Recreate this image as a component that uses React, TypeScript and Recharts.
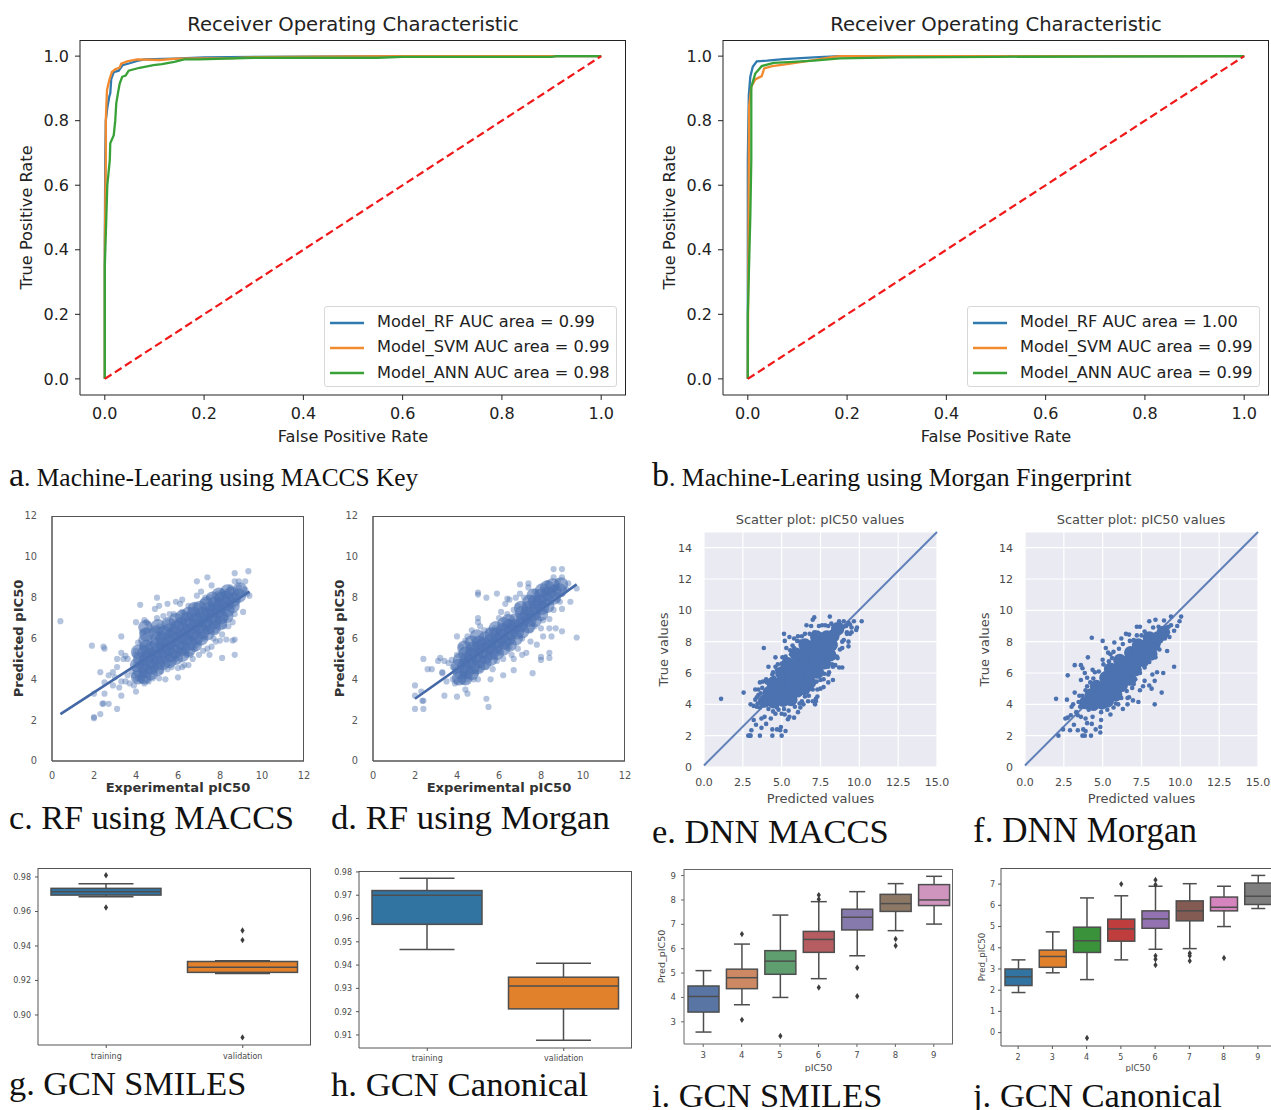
import React from 'react';
import { LineChart, Line, XAxis, YAxis, Legend, ReferenceLine, ScatterChart, Scatter, CartesianGrid, BarChart, Bar } from 'recharts';

type P = number[];
const rocTicks = [0, 0.2, 0.4, 0.6, 0.8, 1.0];

const rocARf: P[] = [[0,0],[0,0.42],[0.001,0.7],[0.002,0.8],[0.005,0.84],[0.009,0.875],[0.011,0.885],[0.013,0.93],[0.018,0.95],[0.028,0.955],[0.036,0.972],[0.05,0.978],[0.065,0.985],[0.08,0.99],[0.14,0.992],[0.2,0.996],[0.3,0.998],[0.6,1],[1,1]];
const rocASvm: P[] = [[0,0],[0,0.4],[0.002,0.68],[0.002,0.8],[0.003,0.843],[0.0044,0.895],[0.0097,0.93],[0.0144,0.951],[0.021,0.959],[0.03,0.965],[0.033,0.977],[0.045,0.984],[0.065,0.99],[0.11,0.988],[0.145,0.992],[0.26,0.994],[0.3,0.997],[0.5,0.999],[0.6,1],[1,1]];
const rocAAnn: P[] = [[0,0],[0,0.35],[0.003,0.5],[0.005,0.6],[0.01,0.678],[0.011,0.73],[0.018,0.755],[0.021,0.8],[0.023,0.853],[0.027,0.89],[0.03,0.915],[0.035,0.936],[0.042,0.94],[0.048,0.955],[0.07,0.964],[0.098,0.972],[0.115,0.975],[0.14,0.982],[0.16,0.99],[0.19,0.99],[0.3,0.995],[0.55,0.995],[0.6,0.998],[0.9,0.998],[0.91,1],[1,1]];
const rocBRf: P[] = [[0,0],[0,0.678],[0.002,0.879],[0.005,0.936],[0.01,0.967],[0.018,0.984],[0.039,0.986],[0.072,0.991],[0.133,0.996],[0.186,1],[1,1]];
const rocBSvm: P[] = [[0,0],[0.002,0.678],[0.0025,0.843],[0.007,0.905],[0.015,0.928],[0.028,0.938],[0.033,0.962],[0.049,0.969],[0.079,0.975],[0.126,0.986],[0.173,0.998],[0.186,1],[1,1]];
const rocBAnn: P[] = [[0,0],[0,0.2],[0.005,0.5],[0.007,0.678],[0.007,0.905],[0.015,0.946],[0.028,0.969],[0.052,0.979],[0.092,0.982],[0.133,0.986],[0.186,0.993],[0.3,0.996],[0.5,0.998],[1,1]];
const chance: P[] = [[0,0],[1,1]];
const rocNamesA = ['Model_RF AUC area = 0.99', 'Model_SVM AUC area = 0.99', 'Model_ANN AUC area = 0.98'];
const rocNamesB = ['Model_RF AUC area = 1.00', 'Model_SVM AUC area = 0.99', 'Model_ANN AUC area = 0.99'];

const rfMaccsCloud: P[] = [[0.4,6.85],[1.9,5.65],[2.45,5.6],[2.5,5.5],[3.3,6.1],[2.3,4.35],[2.5,3.85],[2.7,4.2],[2.9,4.35],[3.1,4.6],[3.1,5.0],[3.3,5.3],[3.4,5.0],[3.5,5.15],[3.6,5.0],[2.0,3.3],[2.5,3.3],[2.4,2.8],[2.45,2.82],[2.7,2.8],[3.1,2.55],[2.3,2.3],[2.0,2.15],[2.0,2.1],[3.3,3.2],[3.2,3.6],[3.3,3.9],[3.0,4.1],[2.9,3.7],[3.5,3.9],[3.7,3.8],[4.0,3.4],[3.9,3.7],[4.2,7.65],[4.0,6.8],[4.4,6.9],[4.5,6.8],[4.6,6.7],[4.5,6.4],[4.3,6.3],[4.1,5.8],[4.0,5.4],[5.0,8.0],[4.9,7.45],[5.1,7.6],[5.5,7.7],[5.9,7.8],[6.2,7.9],[6.1,7.7],[6.9,8.8],[7.4,9.0],[7.6,8.6],[8.7,9.2],[9.35,9.3],[8.7,8.8],[8.9,8.8],[9.2,8.8],[6.9,8.1],[7.3,8.0],[7.1,8.3],[8.6,7.55],[9.1,7.3],[8.6,5.9],[8.3,5.95],[8.7,5.95],[8.7,5.2],[8.1,5.05],[7.8,5.85],[7.5,5.2],[7.2,5.4],[7.0,5.2],[7.4,5.5],[6.8,5.5],[6.6,5.2],[6.4,5.2],[6.3,4.7],[6.5,4.7],[6.2,4.6],[6.0,4.55],[6.0,4.1],[5.4,4.0],[5.1,4.05],[4.8,4.05],[5.5,4.5],[5.7,4.6],[4.4,3.8],[5.2,4.4],[8.2,6.6],[8.4,6.6],[8.6,6.8],[8.1,6.2],[7.8,6.4],[7.7,6.0],[9.4,8.1],[9.3,8.2],[9.0,8.2],[9.2,8.4],[8.9,8.5],[8.5,8.5],[8.4,8.3],[8.1,8.3],[7.9,8.2],[7.5,8.0],[7.2,7.8],[6.8,7.6],[6.5,7.6],[6.2,7.3],[5.8,7.2],[5.6,7.2],[5.3,7.1],[5.0,7.0],[5.1,6.6],[4.9,6.4],[5.5,6.8],[4.0,4.0],[4.1,4.05],[4.2,4.0],[4.3,3.95],[4.5,4.0],[4.6,3.9],[3.9,4.2],[3.8,4.4],[3.6,4.2],[4.0,4.7],[3.95,5.2],[4.3,5.6],[7.6,5.6],[8.0,5.9],[7.2,6.0],[6.7,5.0],[6.9,5.7],[5.9,5.0],[5.6,4.8],[5.3,4.7],[4.9,4.5],[8.8,7.9],[8.7,7.2],[8.3,7.0],[8.5,7.6],[7.9,6.8],[7.4,6.5],[7.1,6.7],[6.6,6.0],[6.3,5.4]];
const rfMaccsCore: P[] = [[4.1,4.1],[4.2,4.4],[4.05,4.7],[4.2,5.0],[4.1,5.35],[4.4,4.1],[4.45,4.4],[4.35,4.7],[4.5,5.0],[4.4,5.3],[4.5,5.6],[4.45,5.9],[4.5,6.2],[4.45,6.55],[4.7,4.3],[4.75,4.6],[4.7,4.9],[4.65,5.2],[4.75,5.5],[5.0,4.5],[5.05,4.8],[4.95,5.1],[5.05,5.4],[5.0,5.7],[5.05,6.0],[4.95,6.3],[5.05,6.6],[5.3,4.8],[5.25,5.1],[5.35,5.4],[5.3,5.7],[5.25,6.0],[5.35,6.3],[5.6,4.9],[5.65,5.2],[5.55,5.5],[5.6,5.8],[5.65,6.1],[5.6,6.4],[5.55,6.7],[5.9,5.05],[5.85,5.35],[5.95,5.65],[5.9,5.95],[5.85,6.25],[5.95,6.55],[5.9,6.9],[6.2,5.2],[6.25,5.5],[6.15,5.8],[6.2,6.1],[6.25,6.4],[6.15,6.7],[6.2,7.05],[6.5,5.45],[6.55,5.75],[6.45,6.05],[6.5,6.35],[6.55,6.65],[6.45,6.95],[6.5,7.2],[6.8,5.7],[6.85,6.0],[6.75,6.3],[6.8,6.6],[6.85,6.9],[6.75,7.2],[6.8,7.45],[7.1,6.0],[7.15,6.3],[7.05,6.6],[7.1,6.9],[7.15,7.2],[7.05,7.5],[7.4,6.25],[7.45,6.55],[7.35,6.85],[7.4,7.15],[7.45,7.45],[7.35,7.7],[7.7,6.5],[7.75,6.8],[7.65,7.1],[7.7,7.4],[7.75,7.7],[7.65,7.95],[8.0,6.75],[8.05,7.05],[7.95,7.35],[8.0,7.65],[8.05,7.95],[7.95,8.15],[8.3,7.1],[8.35,7.4],[8.25,7.7],[8.3,8.0],[8.35,8.3],[8.6,7.6],[8.65,7.9],[8.55,8.2],[8.9,8.1],[8.95,8.4]];
const rfMorganCloud: P[] = [[2,3.7],[2,3.2],[2.4,5.0],[2.6,4.5],[2.8,4.5],[3.1,4.9],[3.2,5.05],[3.4,4.9],[3.6,4.8],[3.75,4.95],[3.3,4.35],[3.3,4.3],[3.5,3.9],[2,2.55],[2.4,2.55],[2.4,2.95],[2.35,2.95],[3.4,3.2],[2.3,3.4],[4.0,3.15],[4.4,3.5],[4.5,3.3],[5.4,3.05],[5.5,2.65],[4.0,6.1],[4.5,6.1],[4.7,6.4],[5.0,7.0],[5.0,6.8],[5.1,6.6],[5.0,8.25],[5.0,8.15],[5.4,8.0],[5.9,8.2],[6.4,7.95],[6.3,7.7],[6.5,7.9],[6.7,7.4],[6.1,7.3],[6.0,7.0],[7.0,8.65],[7.4,8.7],[7.4,8.5],[7.0,8.2],[6.8,8.0],[8.6,9.4],[9.0,9.4],[9.0,9.0],[8.6,9.0],[8.8,8.8],[9.3,8.7],[9.7,8.45],[9.4,7.8],[9.0,7.45],[9.0,6.35],[9.7,6.05],[8.7,6.5],[8.4,6.95],[8.4,6.5],[8.5,6.1],[8.1,6.1],[8.0,6.5],[7.8,5.7],[7.5,5.85],[8.0,5.1],[8.0,4.95],[8.4,5.3],[8.4,5.05],[7.6,4.3],[6.7,4.45],[6.7,5.0],[6.9,5.5],[7.3,5.3],[7.1,5.2],[6.2,4.2],[5.7,4.5],[5.6,4.0],[5.0,4.0],[4.8,4.0],[4.9,4.3],[3.8,4.0],[3.9,3.8],[4.0,3.9],[4.1,4.0],[4.3,3.9],[4.5,4.0],[4.4,4.2],[3.9,4.4],[3.8,4.6],[4.0,5.2],[4.2,5.6],[4.4,5.9],[5.3,6.4],[5.5,6.4],[5.8,6.5],[6.4,7.2],[6.9,7.6],[7.2,8.0],[7.7,8.3],[8.1,8.4],[8.3,8.7],[8.7,8.5],[9.2,8.4],[9.0,8.2],[8.8,7.9],[8.6,7.4],[8.9,7.8],[8.1,6.9],[7.7,6.6],[7.5,6.4],[7.1,6.0],[6.5,5.6],[6.2,5.0],[5.9,4.9],[5.4,4.6],[5.1,4.5],[6.6,5.2],[6.0,5.3],[4.7,4.4]];
const rfMorganCore: P[] = [[4.1,4.05],[4.15,4.35],[4.05,4.65],[4.15,4.95],[4.4,4.05],[4.45,4.35],[4.35,4.65],[4.45,4.95],[4.4,5.25],[4.35,5.55],[4.7,4.3],[4.75,4.6],[4.65,4.9],[4.7,5.2],[4.75,5.5],[4.7,5.8],[5.0,4.6],[5.05,4.9],[4.95,5.2],[5.0,5.5],[5.05,5.8],[4.95,6.1],[5.3,4.8],[5.35,5.1],[5.25,5.4],[5.3,5.7],[5.35,6.0],[5.6,5.0],[5.65,5.3],[5.55,5.6],[5.6,5.9],[5.65,6.2],[5.9,5.3],[5.85,5.6],[5.95,5.9],[5.9,6.2],[5.85,6.5],[6.2,5.5],[6.25,5.8],[6.15,6.1],[6.2,6.4],[6.25,6.7],[6.5,5.7],[6.45,6.0],[6.55,6.3],[6.5,6.6],[6.45,6.85],[6.8,6.0],[6.85,6.3],[6.75,6.6],[6.8,6.9],[7.1,6.35],[7.05,6.65],[7.15,6.95],[7.1,7.25],[7.05,7.5],[7.4,6.6],[7.45,6.9],[7.35,7.2],[7.4,7.5],[7.45,7.8],[7.7,6.9],[7.65,7.2],[7.75,7.5],[7.7,7.8],[7.65,8.1],[8.0,7.2],[8.05,7.5],[7.95,7.8],[8.0,8.1],[8.05,8.35],[8.3,7.6],[8.25,7.9],[8.35,8.2],[8.3,8.5],[8.6,8.0],[8.65,8.3],[8.55,8.6],[8.9,8.35],[8.95,8.65]];

const dnnMaccsCloud: P[] = [[1.1,4.35],[2.55,4.75],[3.0,4.0],[3.2,3.9],[3.4,3.85],[3.2,3.0],[3.35,2.7],[3.05,2.35],[3.0,2.0],[2.85,2.0],[2.95,2.0],[3.6,2.0],[3.7,2.5],[4.0,2.75],[3.7,3.1],[3.9,3.2],[4.3,3.1],[4.6,3.4],[4.4,2.0],[4.4,2.4],[4.7,2.4],[4.9,2.35],[5.0,2.0],[4.95,2.55],[5.25,2.3],[3.3,4.95],[3.5,4.95],[3.6,5.4],[3.8,5.45],[4.05,5.4],[3.85,7.6],[4.15,6.4],[4.6,7.0],[4.6,6.4],[5.0,6.6],[5.2,6.6],[4.4,5.9],[4.5,5.7],[5.15,8.5],[5.2,8.05],[5.5,8.3],[5.8,8.2],[6.05,8.35],[5.7,7.75],[5.3,7.6],[5.6,7.2],[6.2,8.0],[6.5,8.5],[6.3,8.35],[7.1,9.55],[7.0,9.4],[6.6,9.05],[6.9,9.0],[7.4,9.0],[7.8,9.05],[8.1,9.6],[8.2,9.15],[8.0,9.0],[8.5,9.1],[8.7,9.3],[9.0,9.3],[9.3,9.2],[9.5,8.9],[9.5,8.6],[9.65,9.3],[10.15,9.3],[9.85,8.9],[9.8,8.75],[9.4,8.5],[9.2,8.6],[9.3,8.0],[9.3,7.7],[8.9,8.0],[8.9,7.6],[8.4,7.0],[8.7,6.35],[8.9,6.35],[8.3,6.4],[8.0,6.4],[8.0,5.9],[8.3,5.55],[8.0,5.4],[7.7,5.6],[7.7,5.1],[7.5,5.0],[7.3,4.95],[7.3,4.5],[7.2,4.35],[7.2,4.2],[7.0,4.2],[7.15,4.0],[6.7,4.2],[6.4,4.0],[6.2,3.8],[6.05,3.5],[5.8,3.15],[5.5,3.2],[5.4,3.05],[5.2,3.35],[5.0,3.4],[4.7,3.8],[6.6,4.8],[6.9,5.0],[3.3,4.3],[3.5,4.6],[3.7,4.1],[3.95,4.8],[4.1,5.0],[4.3,5.1],[9.0,8.95],[8.8,8.8],[8.6,8.5],[8.8,9.1],[9.15,9.0],[9.4,9.1],[3.45,4.05],[3.6,3.8],[3.4,4.45],[3.65,4.7],[3.75,5.05],[4.0,5.6],[4.3,5.55],[4.45,6.05],[4.7,6.2],[4.75,6.55],[5.05,6.4],[5.05,7.0],[5.25,7.05],[5.55,7.45],[5.8,7.6],[6.0,8.05],[6.3,7.95],[6.8,8.5],[7.1,8.6],[7.6,9.05],[8.35,9.0],[6.15,4.05],[6.3,4.2],[6.5,4.5],[6.75,4.55],[7.0,4.95],[7.25,5.45],[7.5,5.55],[7.75,5.95],[8.05,6.05],[8.25,6.55],[8.45,6.5],[8.6,6.95],[8.55,7.05],[8.75,7.5],[9.0,8.1],[9.2,8.5],[4.15,3.7],[4.45,3.55],[4.8,3.65],[5.15,3.7],[5.45,3.6],[5.85,3.85]];
const dnnMaccsCore: P[] = [[3.9,4.2],[4.5,4.15],[5.1,4.25],[5.6,4.3],[4.2,4.75],[4.8,4.8],[5.4,4.75],[6.0,4.85],[6.45,5.0],[4.45,5.35],[5.0,5.4],[5.6,5.35],[6.2,5.45],[6.8,5.4],[5.0,6.0],[5.6,5.95],[6.2,6.05],[6.8,6.0],[7.3,6.05],[5.4,6.6],[6.0,6.55],[6.6,6.65],[7.2,6.6],[7.75,6.65],[5.95,7.2],[6.5,7.15],[7.1,7.25],[7.7,7.2],[8.1,7.15],[6.5,7.8],[7.1,7.75],[7.7,7.8],[8.2,7.8],[7.25,8.3],[7.9,8.3],[8.3,8.35],[8.6,8.8]];
const dnnMorganCloud: P[] = [[2.0,4.35],[2.15,2.0],[2.6,3.1],[2.75,3.15],[2.45,2.4],[2.95,3.3],[3.15,2.7],[2.9,2.35],[3.4,2.35],[3.7,2.0],[3.85,2.0],[3.75,2.4],[3.9,2.3],[4.25,2.0],[4.55,2.4],[4.85,2.55],[4.85,2.2],[4.9,3.0],[4.3,2.75],[4.0,2.8],[3.9,3.1],[3.6,3.2],[4.35,3.2],[4.9,3.5],[5.5,3.35],[5.3,3.65],[5.7,3.8],[6.3,3.7],[3.3,3.5],[3.1,4.0],[2.7,4.3],[2.75,5.85],[3.2,6.5],[3.6,6.5],[3.7,6.3],[3.85,6.0],[4.05,7.0],[4.3,8.25],[5.0,8.05],[5.75,7.95],[5.2,7.6],[5.35,7.3],[5.5,7.2],[5.0,6.85],[5.6,6.95],[4.35,6.2],[4.5,6.05],[4.0,5.7],[3.6,5.55],[3.2,4.75],[3.5,4.55],[3.0,3.85],[4.5,5.3],[6.5,8.5],[6.2,8.2],[6.7,8.45],[7.2,8.95],[7.4,8.95],[8.0,9.3],[8.4,9.4],[8.95,9.35],[9.4,9.6],[10.05,9.6],[9.95,9.3],[9.8,9.0],[9.6,8.7],[9.4,9.05],[9.1,8.9],[8.6,8.95],[9.3,8.3],[9.15,7.4],[8.4,7.0],[9.6,6.4],[8.9,6.0],[8.5,6.05],[8.2,5.9],[8.8,4.75],[8.35,4.0],[7.3,4.15],[6.95,4.25],[6.7,4.45],[6.6,4.4],[6.6,4.0],[6.0,4.0],[7.0,5.3],[7.6,5.15],[8.0,5.2],[8.15,5.0],[8.35,5.5],[7.7,5.5],[7.4,4.9],[3.4,3.3],[3.9,4.9],[4.2,5.4],[8.7,8.5],[8.9,8.7],[9.2,8.6],[9.0,8.2],[8.6,7.9],[7.5,8.4],[7.0,8.1],[3.55,3.85],[3.45,4.15],[3.7,4.55],[4.0,5.15],[4.4,5.65],[4.75,6.1],[5.05,6.55],[5.4,6.75],[5.7,7.35],[6.05,7.55],[6.3,7.85],[6.75,8.05],[7.2,8.4],[7.7,8.65],[8.25,8.9],[5.85,4.05],[6.2,4.4],[6.55,4.85],[6.9,5.05],[7.1,5.6],[7.4,6.0],[7.7,6.35],[8.0,6.7],[8.3,7.15],[8.65,7.5],[4.1,3.65],[4.5,3.75],[4.95,3.8],[5.2,4.0],[8.85,8.35],[9.25,8.95]];
const dnnMorganCore: P[] = [[3.9,4.1],[4.4,4.0],[4.95,4.1],[5.3,4.2],[4.25,4.6],[4.8,4.65],[5.35,4.65],[5.85,4.6],[4.6,5.15],[5.15,5.15],[5.7,5.1],[6.2,5.2],[5.2,5.7],[5.75,5.7],[6.3,5.7],[6.75,5.6],[5.5,6.25],[6.05,6.25],[6.6,6.2],[7.1,6.2],[6.1,6.8],[6.65,6.75],[7.2,6.75],[7.6,6.8],[6.8,7.3],[7.3,7.25],[7.8,7.3],[8.1,7.2],[7.3,7.8],[7.8,7.75],[8.3,7.8],[8.0,8.25],[8.55,8.25],[8.9,8.6]];

const gLabels = ['training', 'validation'];
const gQ1 = [0.9695, 0.9247];
const gMed = [0.9714, 0.9277];
const gQ3 = [0.9734, 0.931];
const gLow = [0.9685, 0.924];
const gHigh = [0.9761, 0.9315];
const gFlier = [[0.981, 0.9623], [0.949, 0.9434, 0.887]];
const hQ1 = [0.9575, 0.9212];
const hMed = [0.97, 0.931];
const hQ3 = [0.972, 0.9348];
const hLow = [0.9467, 0.9077];
const hHigh = [0.9773, 0.9408];
const hFlier: number[][] = [[], []];
const iLabels = ['3', '4', '5', '6', '7', '8', '9'];
const iQ1 = [3.40, 4.36, 4.95, 5.85, 6.77, 7.53, 7.77];
const iMed = [4.04, 4.81, 5.49, 6.38, 7.29, 7.85, 8.0];
const iQ3 = [4.47, 5.16, 5.92, 6.71, 7.62, 8.23, 8.63];
const iLow = [2.58, 3.70, 4.0, 4.77, 5.71, 6.74, 7.01];
const iHigh = [5.1, 6.19, 7.38, 7.93, 8.34, 8.67, 8.97];
const iFlier = [[], [6.6, 3.08], [2.42], [8.2, 8.03, 4.41], [5.22, 4.05], [6.4, 6.12], []];
const jLabels = ['2', '3', '4', '5', '6', '7', '8', '9'];
const jQ1 = [2.22, 3.08, 3.78, 4.31, 4.92, 5.27, 5.74, 6.04];
const jMed = [2.63, 3.59, 4.33, 4.89, 5.36, 5.74, 5.91, 6.43];
const jQ3 = [3.0, 3.89, 4.97, 5.35, 5.74, 6.21, 6.39, 7.05];
const jLow = [1.89, 2.82, 2.5, 3.43, 3.93, 3.96, 5.0, 5.85];
const jHigh = [3.43, 4.75, 6.35, 6.45, 6.9, 7.02, 6.9, 7.41];
const jFlier = [[], [], [-0.25], [7.0], [7.2, 6.97, 3.62, 3.46, 3.19], [3.74, 3.62, 3.38], [3.52], []];
const twoColors = ['#3274a1', '#e1812c'];
const iColors = ['#5975a4', '#cc8963', '#5f9e6e', '#b55d60', '#857aab', '#8d7866', '#d095bf'];
const jColors = ['#3274a1', '#e1812c', '#3a923a', '#c03d3e', '#9372b2', '#845b53', '#d684bd', '#7f7f7f'];

const captions = [
  { lead: 'a', rest: '. Machine-Learing using MACCS Key', x: 9, cy: 475, size: 25.4, leadSize: 34 },
  { lead: 'b', rest: '. Machine-Learing using Morgan Fingerprint', x: 652, cy: 475, size: 25.7, leadSize: 34 },
  { lead: 'c', rest: '. RF using MACCS', x: 9, cy: 818, size: 34.2, leadSize: 34.2 },
  { lead: 'd', rest: '. RF using Morgan', x: 331, cy: 818, size: 34.7, leadSize: 34.7 },
  { lead: 'e', rest: '. DNN MACCS', x: 652, cy: 831, size: 34.5, leadSize: 34.5 },
  { lead: 'f', rest: '. DNN Morgan', x: 973, cy: 831, size: 35, leadSize: 35 },
  { lead: 'g', rest: '. GCN SMILES', x: 9, cy: 1083, size: 34.3, leadSize: 34.3 },
  { lead: 'h', rest: '. GCN Canonical', x: 331, cy: 1085, size: 34.7, leadSize: 34.7 },
  { lead: 'i', rest: '. GCN SMILES', x: 652, cy: 1095, size: 34.4, leadSize: 34.4 },
  { lead: 'j', rest: '. GCN Canonical', x: 973, cy: 1095, size: 34.6, leadSize: 34.6 },
];

const SANS = '"DejaVu Sans", sans-serif';
const toXY = (a: P[]) => a.map(([x, y]) => ({ x, y }));

function Title({ text, cx, cy, size, color }: any) {
  return <div style={{ position: 'absolute', left: cx - 250, width: 500, top: cy - size * 0.7, height: size * 1.4, lineHeight: `${size * 1.4}px`, textAlign: 'center', fontFamily: SANS, fontSize: size, color }}>{text}</div>;
}

function Spines({ left, top, w, h, color, width }: any) {
  return <div style={{ position: 'absolute', left, top, width: w, height: h, boxSizing: 'border-box', borderTop: `${width}px solid ${color}`, borderRight: `${width}px solid ${color}`, pointerEvents: 'none' }} />;
}

function legendContent(x: number, y: number, names: string[]) {
  return (props: any) => (
    <div style={{ position: 'absolute', left: x, top: y, width: 293, height: 81, boxSizing: 'border-box', border: '1px solid #d8d8d8', borderRadius: 3, background: 'rgba(255,255,255,.85)', fontFamily: SANS, fontSize: 16.2, color: '#222' }}>
      {(props.payload || []).filter((e: any) => names.includes(e.value)).map((e: any, i: number) => (
        <div key={i} style={{ position: 'absolute', left: 5, top: 2 + i * 25.3, height: 25, lineHeight: '25px', whiteSpace: 'nowrap' }}>
          <svg width={34} height={6} style={{ verticalAlign: 'middle', marginRight: 13 }}><line x1={0} x2={34} y1={3} y2={3} stroke={e.color} strokeWidth={2.4} /></svg>
          {e.value}
        </div>
      ))}
    </div>
  );
}

function RocPanel({ x0, series, names }: { x0: number; series: P[][]; names: string[] }) {
  const yW = 70, xH = 54, top = 10, right = 10;
  const py0 = 40, w = 546, h = 355;
  const left = x0 - yW;
  const colors = ['#2f7bb0', '#f28a30', '#38a238'];
  return (
    <div style={{ position: 'absolute', left, top: py0 - top }}>
      <LineChart width={w + yW + right} height={h + top + xH} margin={{ top, right, left: 0, bottom: 0 }}>
        <XAxis dataKey="x" type="number" domain={[-0.05, 1.05]} ticks={rocTicks} interval={0} allowDataOverflow tickFormatter={(v: number) => v.toFixed(1)}
          height={xH} tick={{ fontFamily: SANS, fontSize: 16, fill: '#222' }} tickSize={5} tickMargin={8} stroke="#222"
          label={{ value: 'False Positive Rate', position: 'insideBottom', offset: 7, style: { fontFamily: SANS, fontSize: 16.2, fill: '#222' } }} />
        <YAxis dataKey="y" type="number" domain={[-0.05, 1.05]} ticks={rocTicks} interval={0} allowDataOverflow tickFormatter={(v: number) => v.toFixed(1)}
          width={yW} tick={{ fontFamily: SANS, fontSize: 16, fill: '#222' }} tickSize={5} tickMargin={6} stroke="#222"
          label={{ value: 'True Positive Rate', angle: -90, position: 'insideLeft', offset: 16, textAnchor: 'middle', style: { fontFamily: SANS, fontSize: 16.2, fill: '#222', textAnchor: 'middle' } }} />
        {series.map((d, i) => (
          <Line key={i} data={toXY(d)} dataKey="y" name={names[i]} stroke={colors[i]} strokeWidth={2.3} dot={false} isAnimationActive={false} />
        ))}
        <Line data={toXY(chance)} dataKey="y" name="chance" stroke="#f01818" strokeWidth={2.2} strokeDasharray="8 4" dot={false} legendType="none" isAnimationActive={false} />
        <Legend layout="horizontal" verticalAlign="middle" align="center" itemSorter={null as any} content={legendContent(244, 276, names) as any} wrapperStyle={{ position: 'absolute', left: yW, top: 0, width: 0, height: 0, transform: 'none' }} />
      </LineChart>
      <Spines left={yW} top={top} w={w} h={h} color="#222" width={1} />
    </div>
  );
}

function RfPanel({ x0, cloud, core, line }: any) {
  const ticks = [0, 2, 4, 6, 8, 10, 12];
  const yW = 44, xH = 38, top = 8, right = 12;
  const w = 252, h = 245;
  const txt = { fontFamily: SANS, fontSize: 9.8, fill: '#555' };
  const lab = { fontFamily: SANS, fontSize: 13.1, fontWeight: 700, fill: '#333' };
  const circle = (r: number, a: number) => (p: any) => <circle cx={p.cx} cy={p.cy} r={r} fill="#4c72b0" fillOpacity={a} />;
  return (
    <div style={{ position: 'absolute', left: x0 - yW, top: 516 - top }}>
      <ScatterChart width={w + yW + right} height={h + top + xH} margin={{ top, right, left: 0, bottom: 0 }}>
        <XAxis dataKey="x" type="number" domain={[0, 12]} ticks={ticks} interval={0} height={xH} tick={txt} tickLine={false} tickMargin={5} stroke="#555" strokeWidth={1.5}
          label={{ value: 'Experimental pIC50', position: 'insideBottom', offset: 7, style: lab }} />
        <YAxis dataKey="y" type="number" domain={[0, 12]} ticks={ticks} interval={0} width={yW} tick={txt} tickLine={false} tickMargin={9} stroke="#555" strokeWidth={1.5}
          label={{ value: 'Predicted pIC50', angle: -90, position: 'insideLeft', offset: 10, style: { ...lab, textAnchor: 'middle' } }} />
        <ReferenceLine segment={[{ x: line[0][0], y: line[0][1] }, { x: line[1][0], y: line[1][1] }]} stroke="#4468a6" strokeWidth={2.6} />
        <Scatter data={toXY(core)} shape={circle(7.2, 0.6)} isAnimationActive={false} />
        <Scatter data={toXY(cloud)} shape={circle(3.1, 0.42)} isAnimationActive={false} />
      </ScatterChart>
      <Spines left={yW} top={top} w={w} h={h} color="#555" width={1.5} />
    </div>
  );
}

const rfLineC: P[] = [[0.4, 2.3], [9.4, 8.3]];
const rfLineD: P[] = [[2, 3.05], [9.7, 8.65]];
const dnnLine: P[] = [[0, 0.1], [15, 15]];

function DnnPanel({ x0, cloud, core }: any) {
  const xt = [0, 2.5, 5, 7.5, 10, 12.5, 15];
  const yt = [0, 2, 4, 6, 8, 10, 12, 14];
  const yW = 56, xH = 42, top = 6, right = 16;
  const w = 233, h = 235;
  const txt = { fontFamily: SANS, fontSize: 11, fill: '#4a4a4a' };
  const lab = { fontFamily: SANS, fontSize: 13, fill: '#4a4a4a' };
  const circle = (r: number) => (p: any) => <circle cx={p.cx} cy={p.cy} r={r} fill="#4c72b0" />;
  return (
    <div style={{ position: 'absolute', left: x0 - yW, top: 532 - top }}>
      <ScatterChart width={w + yW + right} height={h + top + xH} margin={{ top, right, left: 0, bottom: 0 }}>
        <CartesianGrid fill="#eaeaf2" stroke="#ffffff" strokeWidth={1.2} />
        <XAxis dataKey="x" type="number" domain={[0, 15]} ticks={xt} interval={0} height={xH} tick={txt} tickLine={false} axisLine={false} tickMargin={5} tickFormatter={(v: number) => v.toFixed(1)}
          label={{ value: 'Predicted values', position: 'insideBottom', offset: 6, style: lab }} />
        <YAxis dataKey="y" type="number" domain={[0, 15]} ticks={yt} interval={0} width={yW} tick={txt} tickLine={false} axisLine={false} tickMargin={6}
          label={{ value: 'True values', angle: -90, position: 'insideLeft', offset: 15, style: { ...lab, textAnchor: 'middle' } }} />
        <ReferenceLine segment={[{ x: dnnLine[0][0], y: dnnLine[0][1] }, { x: dnnLine[1][0], y: dnnLine[1][1] }]} stroke="#5f80b8" strokeWidth={2} />
        <Scatter data={toXY(core)} shape={circle(6.6)} isAnimationActive={false} />
        <Scatter data={toXY(cloud)} shape={circle(2.3)} isAnimationActive={false} />
      </ScatterChart>
    </div>
  );
}

const BoxShape = (props: any) => {
  const { x, y, width, height, payload, capW } = props;
  const fill = payload.fill;
  const py = (v: number) => y + height - ((v - payload.q1) / (payload.q3 - payload.q1)) * height;
  const cx = x + width / 2;
  const ink = '#4e4e4e';
  return (
    <g>
      <line x1={cx} x2={cx} y1={py(payload.high)} y2={y} stroke={ink} strokeWidth={1.5} />
      <line x1={cx} x2={cx} y1={y + height} y2={py(payload.low)} stroke={ink} strokeWidth={1.5} />
      <line x1={cx - capW / 2} x2={cx + capW / 2} y1={py(payload.high)} y2={py(payload.high)} stroke={ink} strokeWidth={1.5} />
      <line x1={cx - capW / 2} x2={cx + capW / 2} y1={py(payload.low)} y2={py(payload.low)} stroke={ink} strokeWidth={1.5} />
      <rect x={x} y={y} width={width} height={height} fill={fill} stroke={ink} strokeWidth={1.5} />
      <line x1={x} x2={x + width} y1={py(payload.med)} y2={py(payload.med)} stroke={ink} strokeWidth={1.5} />
      {payload.fliers.map((f: number, i: number) => {
        const c = py(f);
        return <polygon key={i} points={`${cx},${c - 3.2} ${cx + 2.1},${c} ${cx},${c + 3.2} ${cx - 2.1},${c}`} fill="#3d3d3d" />;
      })}
    </g>
  );
};

function BoxPanel({ rect, labels, q1, med, q3, low, high, fliers, colors, domain, ticks, fmt, barW, capW, font, xLabel, yLabel, spine, xH, labFont, labOffset, xMargin, yMargin, yW = 34 }: any) {
  const [x0, y0, x1, y1] = rect;
  const top = 4, right = 6;
  const data = labels.map((l: string, i: number) => ({ label: l, q1: q1[i], med: med[i], q3: q3[i], low: low[i], high: high[i], fliers: fliers[i], fill: colors[i] }));
  const txt = { fontFamily: SANS, fontSize: font, fill: '#4a4a4a' };
  return (
    <div style={{ position: 'absolute', left: x0 - yW, top: y0 - top }}>
      <BarChart width={x1 - x0 + yW + right} height={y1 - y0 + top + xH} data={data} margin={{ top, right, left: 0, bottom: 0 }} barSize={barW}>
        <XAxis dataKey="label" height={xH} interval={0} tick={txt} tickSize={3} tickMargin={xMargin} stroke={spine}
          label={xLabel ? { value: xLabel, position: 'insideBottom', offset: 1, style: { ...txt, fontSize: labFont } } : undefined} />
        <YAxis type="number" domain={domain} ticks={ticks} interval={0} allowDataOverflow width={yW} tick={txt} tickSize={3} tickMargin={yMargin} stroke={spine} tickFormatter={fmt}
          label={yLabel ? { value: yLabel, angle: -90, position: 'insideLeft', offset: labOffset, style: { ...txt, fontSize: labFont, textAnchor: 'middle' } } : undefined} />
        <Bar dataKey={(d: any) => [d.q1, d.q3]} shape={(p: any) => <BoxShape {...p} capW={capW} />} isAnimationActive={false} />
      </BarChart>
      <Spines left={yW} top={top} w={x1 - x0} h={y1 - y0} color={spine} width={1} />
    </div>
  );
}

const f2 = (v: number) => v.toFixed(2);
const f0 = (v: number) => String(v);

export default function App() {
  return (
    <div style={{ position: 'absolute', left: 0, top: 0, width: 1271, height: 1110, overflow: 'hidden', background: '#fff' }}>
      <Title text="Receiver Operating Characteristic" cx={353} cy={25} size={19.6} color="#222" />
      <Title text="Receiver Operating Characteristic" cx={996} cy={25} size={19.6} color="#222" />
      <RocPanel x0={80} series={[rocARf, rocASvm, rocAAnn]} names={rocNamesA} />
      <RocPanel x0={723} series={[rocBRf, rocBSvm, rocBAnn]} names={rocNamesB} />
      <RfPanel x0={52} cloud={rfMaccsCloud} core={rfMaccsCore} line={rfLineC} />
      <RfPanel x0={373} cloud={rfMorganCloud} core={rfMorganCore} line={rfLineD} />
      <Title text="Scatter plot: pIC50 values" cx={820} cy={520} size={13} color="#4a4a4a" />
      <Title text="Scatter plot: pIC50 values" cx={1141} cy={520} size={13} color="#4a4a4a" />
      <DnnPanel x0={704} cloud={dnnMaccsCloud} core={dnnMaccsCore} />
      <DnnPanel x0={1025} cloud={dnnMorganCloud} core={dnnMorganCore} />
      <BoxPanel rect={[38, 868, 311, 1045]} labels={gLabels} q1={gQ1} med={gMed} q3={gQ3} low={gLow} high={gHigh} fliers={gFlier} colors={twoColors}
        domain={[0.8826, 0.9852]} ticks={[0.9, 0.92, 0.94, 0.96, 0.98]} fmt={f2} barW={110} capW={55} font={8} spine="#555" xH={22} xMargin={5} yMargin={4} />
      <BoxPanel rect={[359, 871, 632, 1048]} labels={gLabels} q1={hQ1} med={hMed} q3={hQ3} low={hLow} high={hHigh} fliers={hFlier} colors={twoColors}
        domain={[0.9044, 0.9804]} ticks={[0.91, 0.92, 0.93, 0.94, 0.95, 0.96, 0.97, 0.98]} fmt={f2} barW={110} capW={55} font={8} spine="#555" xH={22} xMargin={4} yMargin={4} />
      <BoxPanel rect={[684, 869, 953, 1044]} labels={iLabels} q1={iQ1} med={iMed} q3={iQ3} low={iLow} high={iHigh} fliers={iFlier} colors={iColors}
        domain={[2.09, 9.27]} ticks={[3, 4, 5, 6, 7, 8, 9]} fmt={f0} barW={31} capW={16} font={8.5} xLabel="pIC50" yLabel="Pred_pIC50" spine="#666" xH={28} labFont={9.5} labOffset={12} xMargin={5} yMargin={5} />
      <BoxPanel rect={[1001, 868, 1275, 1046]} labels={jLabels} q1={jQ1} med={jMed} q3={jQ3} low={jLow} high={jHigh} fliers={jFlier} colors={jColors}
        domain={[-0.63, 7.76]} ticks={[0, 1, 2, 3, 4, 5, 6, 7]} fmt={f0} barW={27} capW={14} font={8} xLabel="pIC50" yLabel="Pred_pIC50" spine="#555" xH={26} labFont={8.6} labOffset={15} xMargin={5} yMargin={3} />
      {captions.map((c) => (
        <div key={c.lead} style={{ position: 'absolute', left: c.x, top: c.cy - 14, height: 28, lineHeight: '28px', whiteSpace: 'nowrap', fontFamily: '"Liberation Serif", serif', fontSize: c.size, color: '#111' }}>
          <span style={{ fontSize: c.leadSize }}>{c.lead}</span>{c.rest}
        </div>
      ))}
    </div>
  );
}
